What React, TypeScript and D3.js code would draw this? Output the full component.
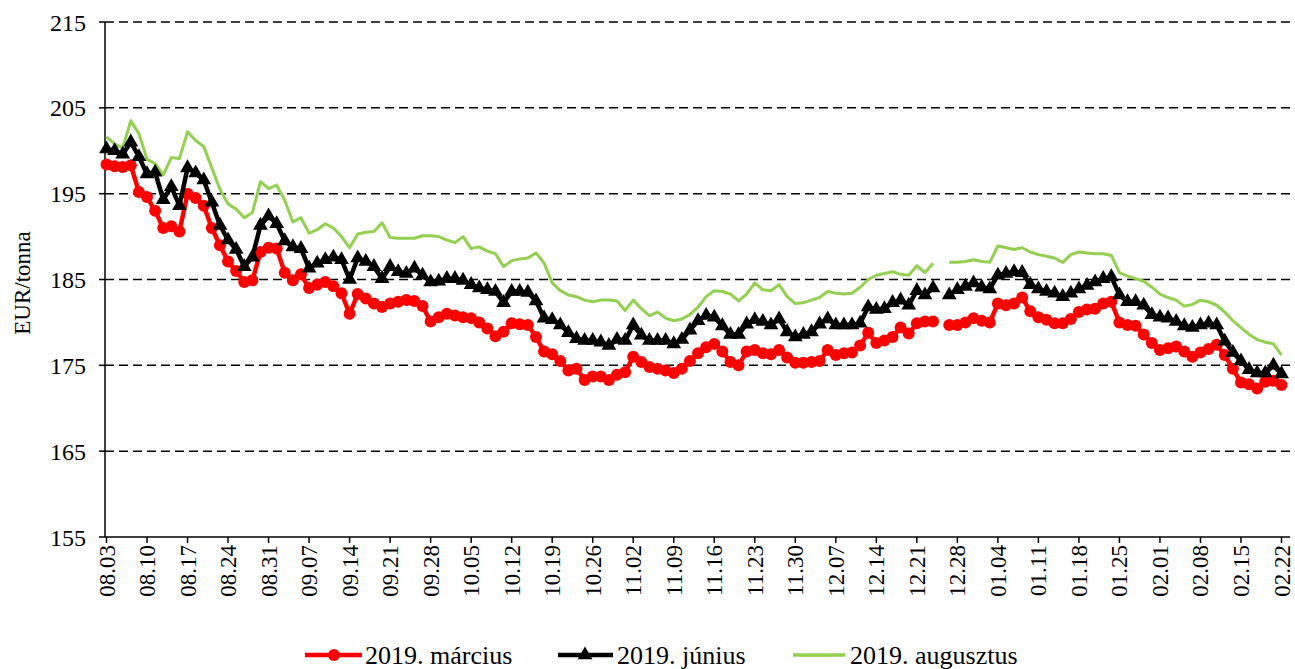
import React from 'react';
import * as d3 from 'd3';

// weekdays 2018.08.03 - 2019.02.22
const dates = d3.timeDay
  .range(new Date(2018, 7, 3), new Date(2019, 1, 23))
  .filter((d) => d.getDay() !== 0 && d.getDay() !== 6)
  .map((d) => d3.timeFormat('%m.%d')(d));

const yTicks = [155, 165, 175, 185, 195, 205, 215];

const marcius = [
  198.4, 198.2, 198.1, 198.3, 195.2, 194.6, 193.0, 191.0, 191.2, 190.6,
  195.0, 194.5, 193.6, 191.0, 189.0, 187.1, 186.0, 184.7, 184.9, 188.2,
  188.7, 188.6, 185.8, 184.9, 185.6, 184.0, 184.4, 184.7, 184.2, 183.4,
  181.0, 183.3, 182.8, 182.2, 181.8, 182.2, 182.4, 182.6, 182.5, 181.9,
  180.1, 180.6, 181.0, 180.8, 180.6, 180.5, 180.0, 179.3, 178.4, 178.9,
  179.9, 179.8, 179.7, 178.3, 176.6, 176.3, 175.5, 174.4, 174.6, 173.3,
  173.7, 173.7, 173.3, 173.9, 174.2, 176.0, 175.4, 174.8, 174.6, 174.4,
  174.1, 174.6, 175.5, 176.4, 177.1, 177.5, 176.6, 175.4, 175.0, 176.6,
  176.8, 176.4, 176.3, 176.8, 175.9, 175.3, 175.3, 175.4, 175.5, 176.8,
  176.2, 176.4, 176.5, 177.3, 178.8, 177.6, 177.9, 178.3, 179.4, 178.7,
  179.9, 180.1, 180.1, null, 179.7, 179.7, 180.0, 180.5, 180.2, 180.0,
  182.2, 182.0, 182.2, 182.9, 181.3, 180.6, 180.3, 179.9, 179.9, 180.4,
  181.2, 181.5, 181.6, 182.2, 182.4, 180.0, 179.7, 179.6, 178.6, 177.6,
  176.8, 177.0, 177.2, 176.6, 176.0, 176.5, 176.9, 177.4, 176.2, 174.6,
  173.0, 172.8, 172.3, 173.1, 173.2, 172.7,
];

const junius = [
  200.2, 200.0, 199.6, 201.0, 199.3, 197.3, 197.5, 194.3, 195.8, 193.6,
  198.0, 197.4, 196.6, 194.0, 191.3, 189.6, 188.5, 186.5, 187.6, 191.3,
  192.4, 191.5, 189.5, 188.8, 188.6, 186.3, 186.9, 187.3, 187.6, 187.3,
  185.0, 187.5, 187.1, 186.5, 185.1, 186.5, 185.9, 185.7, 186.3, 185.5,
  184.7, 184.8, 185.1, 185.1, 184.9, 184.4, 184.0, 183.8, 183.6, 182.3,
  183.6, 183.6, 183.5, 182.5, 180.5, 180.3, 179.7, 178.8, 178.1, 177.9,
  177.9, 177.7, 177.3, 178.0, 177.9, 179.7, 178.5, 177.9, 177.9, 177.9,
  177.5, 178.0, 179.1, 180.2, 180.8, 180.6, 179.6, 178.6, 178.6, 179.8,
  180.3, 180.1, 179.7, 180.4, 178.9, 178.3, 178.6, 178.9, 179.8, 180.4,
  179.7, 179.7, 179.7, 179.9, 181.8, 181.5, 181.6, 182.3, 182.6, 182.0,
  183.7, 183.2, 184.0, null, 183.2, 183.8, 184.2, 184.6, 184.1, 183.9,
  185.5, 185.7, 185.9, 185.8, 184.4, 183.9, 183.6, 183.4, 183.0, 183.4,
  183.9, 184.3, 184.7, 185.1, 185.3, 183.2, 182.4, 182.4, 182.0, 180.9,
  180.6, 180.5, 180.1, 179.6, 179.4, 179.7, 179.9, 179.7, 177.8, 176.5,
  175.5, 174.5, 174.1, 174.1, 175.0, 174.0,
];

const augusztus = [
  201.6, 200.8, 200.3, 203.5, 202.0, 199.0, 198.5, 197.2, 199.2, 199.1,
  202.2, 201.2, 200.5, 198.0, 195.5, 193.8, 193.2, 192.2, 192.8, 196.4,
  195.6, 196.0, 194.2, 191.7, 192.2, 190.4, 190.8, 191.5, 191.0, 190.0,
  188.7, 190.3, 190.5, 190.6, 191.6, 189.9, 189.8, 189.8, 189.8, 190.1,
  190.1, 190.0, 189.6, 189.3, 190.0, 188.6, 188.8, 188.3, 188.0, 186.5,
  187.2, 187.4, 187.5, 188.1, 186.9, 184.6, 183.7, 183.2, 183.0, 182.6,
  182.4, 182.6, 182.6, 182.5, 181.4, 182.6, 181.6, 180.8, 181.2, 180.5,
  180.2, 180.4, 180.9, 181.8, 183.0, 183.7, 183.6, 183.3, 182.5, 183.3,
  184.6, 183.8, 183.7, 184.4, 183.0, 182.2, 182.3, 182.6, 182.9, 183.6,
  183.4, 183.3, 183.4, 184.1, 185.0, 185.5, 185.7, 185.9, 185.6, 185.5,
  186.6, 185.8, 186.9, null, 187.0, 187.0, 187.1, 187.3, 187.1, 187.0,
  188.9, 188.7, 188.5, 188.7, 188.2, 187.9, 187.7, 187.5, 187.0, 187.9,
  188.2, 188.1, 188.0, 188.0, 187.8, 185.8, 185.4, 185.1, 184.8, 184.1,
  183.3, 182.9, 182.6, 181.9, 182.1, 182.6, 182.4, 182.0, 181.2, 180.2,
  179.4, 178.6, 178.0, 177.7, 177.5, 176.2,
];

const seriesNames = ['2019. március', '2019. június', '2019. augusztus'];

const font = "'Liberation Serif', 'Times New Roman', serif";
const W = 1295;
const H = 669;
const left = 105;
const right = 1290;
const top = 22;
const bottom = 537;

const App = () => {
  const x = d3.scalePoint<string>().domain(dates).range([106.5, 1281.5]);
  const y = d3.scaleLinear().domain([155, 215]).range([bottom, top]);

  const line = d3
    .line<number | null>()
    .defined((d) => d != null)
    .x((d, i) => x(dates[i]) as number)
    .y((d) => y(d as number));

  const tri = d3.symbol(d3.symbolTriangle, 95)();

  return (
    <svg width={W} height={H} style={{ position: 'absolute', left: 0, top: 0, background: '#fff' }}>
      {/* gridlines */}
      {yTicks.slice(1).map((t) => (
        <line key={t} x1={left} x2={right} y1={y(t)} y2={y(t)} stroke="#000" strokeWidth={1.5} strokeDasharray="9,5" />
      ))}
      {/* axes */}
      <line x1={left} x2={left} y1={top} y2={bottom} stroke="#000" strokeWidth={1.5} />
      <line x1={left} x2={right} y1={bottom} y2={bottom} stroke="#000" strokeWidth={1.5} />
      {yTicks.map((t) => (
        <g key={t}>
          <line x1={left - 6} x2={left} y1={y(t)} y2={y(t)} stroke="#000" strokeWidth={1.5} />
          <text x={86} y={y(t) + 8.5} textAnchor="end" fontFamily={font} fontSize={24}>{t}</text>
        </g>
      ))}
      {dates.map((d, i) =>
        i % 5 === 0 ? (
          <g key={d}>
            <line x1={x(d)} x2={x(d)} y1={bottom} y2={bottom + 6} stroke="#000" strokeWidth={1.5} />
            <text
              transform={`translate(${(x(d) as number) + 8},545) rotate(-90)`}
              textAnchor="end"
              fontFamily={font}
              fontSize={23}
            >
              {d}
            </text>
          </g>
        ) : null
      )}
      <text transform="translate(30,283) rotate(-90)" textAnchor="middle" fontFamily={font} fontSize={23}>EUR/tonna</text>

      {/* series */}
      <path d={line(augusztus) || ''} fill="none" stroke="#92D050" strokeWidth={3} strokeLinejoin="round" />
      <path d={line(marcius) || ''} fill="none" stroke="#FF0000" strokeWidth={4.5} strokeLinejoin="round" />
      {marcius.map((v, i) =>
        v == null ? null : <circle key={i} cx={x(dates[i])} cy={y(v)} r={6} fill="#FF0000" />
      )}
      <path d={line(junius) || ''} fill="none" stroke="#000" strokeWidth={4.5} strokeLinejoin="round" />
      {junius.map((v, i) =>
        v == null ? null : <path key={i} d={tri || ''} transform={`translate(${x(dates[i])},${y(v)})`} fill="#000" />
      )}

      {/* legend */}
      <line x1={305} x2={362} y1={655} y2={655} stroke="#FF0000" strokeWidth={4.5} />
      <circle cx={334} cy={655} r={6} fill="#FF0000" />
      <text x={365} y={664} fontFamily={font} fontSize={26}>{seriesNames[0]}</text>
      <line x1={558} x2={613} y1={655} y2={655} stroke="#000" strokeWidth={4.5} />
      <path d={tri || ''} transform="translate(585,655)" fill="#000" />
      <text x={617} y={664} fontFamily={font} fontSize={26}>{seriesNames[1]}</text>
      <line x1={793} x2={845} y1={655} y2={655} stroke="#92D050" strokeWidth={3.5} />
      <text x={850} y={664} fontFamily={font} fontSize={26}>{seriesNames[2]}</text>
    </svg>
  );
};

export default App;
